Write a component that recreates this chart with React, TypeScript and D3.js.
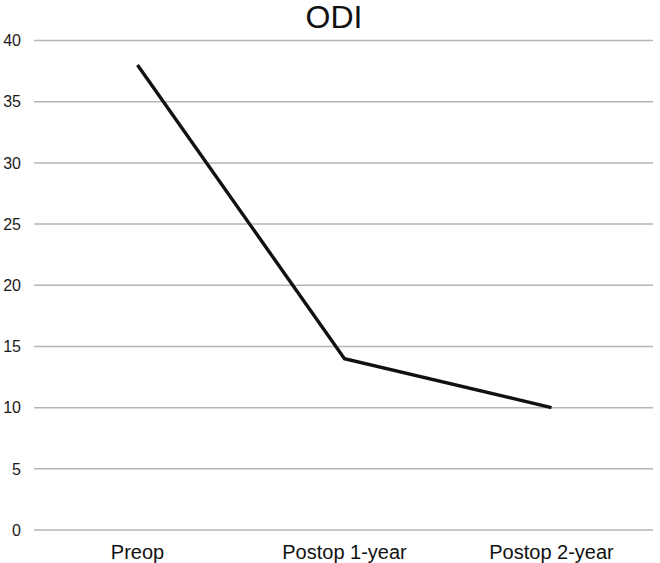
import React from "react";
import * as d3 from "d3";

const categories = ["Preop", "Postop 1-year", "Postop 2-year"];
const odiValues = [38, 14, 10];
const yTicks = [0, 5, 10, 15, 20, 25, 30, 35, 40];
const title = "ODI";

export default function App() {
  const width = 660;
  const height = 563;
  const x = d3.scaleBand<string>().domain(categories).range([34, 655]);
  const y = d3.scaleLinear().domain([0, 40]).range([530, 40.5]);
  const line = d3
    .line<number>()
    .x((_, i) => (x(categories[i]) as number) + x.bandwidth() / 2)
    .y((d) => y(d));
  const font = "'Liberation Sans', Arial, sans-serif";
  return (
    <svg
      width={width}
      height={height}
      style={{ position: "absolute", left: 0, top: 0, background: "#fff" }}
    >
      <text x={334} y={28} textAnchor="middle" fontFamily={font} fontSize={32} fill="#111">
        {title}
      </text>
      {yTicks.map((t) => (
        <g key={t}>
          <line x1={34} x2={653} y1={y(t)} y2={y(t)} stroke="#b5b5b5" strokeWidth={1.5} />
          <text
            x={21}
            y={y(t)}
            dy="0.36em"
            textAnchor="end"
            fontFamily={font}
            fontSize={16}
            fill="#1a1a1a"
          >
            {t}
          </text>
        </g>
      ))}
      {categories.map((c) => (
        <text
          key={c}
          x={(x(c) as number) + x.bandwidth() / 2}
          y={559}
          textAnchor="middle"
          fontFamily={font}
          fontSize={20}
          fill="#111"
        >
          {c}
        </text>
      ))}
      <path d={line(odiValues) || ""} fill="none" stroke="#111" strokeWidth={3.4} strokeLinejoin="miter" />
    </svg>
  );
}
